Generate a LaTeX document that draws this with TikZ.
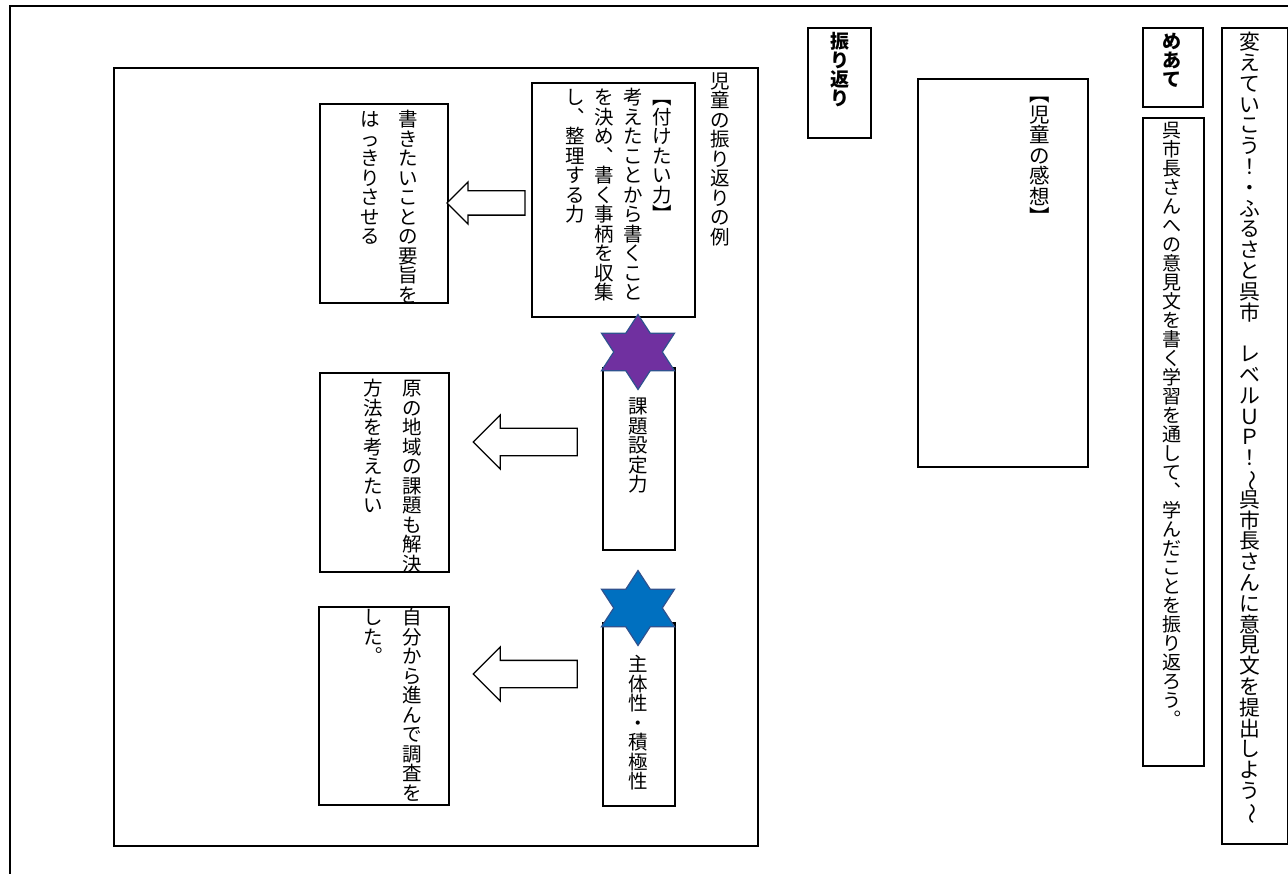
\documentclass[tikz,border=0pt]{standalone}
\usepackage{fontspec}
\setmainfont{Noto Sans CJK JP}
\usetikzlibrary{shapes.arrows}
\definecolor{starpurple}{HTML}{7030A0}
\definecolor{starblue}{HTML}{0070C0}
\definecolor{starline}{HTML}{2F528F}

% one column of vertical (tategaki) text, read top to bottom
\makeatletter
\newcommand\tatecol[1]{\vtop{\baselineskip=1em\lineskip=0pt\lineskiplimit=-100pt
  \@tfor\tate@c:=#1\do{\hbox to 1em{\hss\tate@c\hss}}}}
\makeatother
\newcommand\vwave{\rotatebox[origin=c]{-90}{〜}}

\begin{document}
\begin{tikzpicture}[
  x=1pt, y=-1pt,
  box/.style={draw, line width=1.6pt, anchor=north west, inner sep=0pt},
  vtext/.style={anchor=north east, inner sep=0pt, font=\fontsize{19.5}{19.5}\selectfont},
  vhead/.style={vtext, font=\bfseries\fontsize{19}{19}\selectfont},
  blockarrow/.style={single arrow, draw, line width=1.3pt, fill=white, shape border rotate=180},
  hexstar/.style={draw=starline, line width=1.2pt}
]
\useasboundingbox (0,0) rectangle (1288,874);
\draw[line width=2.2pt] (10,874) -- (10,6) -- (1288,6);

% right hand strips
\node[box, minimum width=66pt, minimum height=816pt] (titlebox) at (1221,27) {};
\node[vtext, font=\fontsize{20.8}{20.8}\selectfont] (title) at (1260,32)
  {\tatecol{変えていこう！・ふるさと呉市　レベルＵＰ！\vwave 呉市長さんに意見文を提出しよう\vwave}};
\node[box, minimum width=60pt, minimum height=79pt] (meatebox) at (1142,27) {};
\node[vhead] (meate) at (1182,33) {\tatecol{めあて}};
\node[box, minimum width=61pt, minimum height=648pt] (goalbox) at (1142,117) {};
\node[vtext, font=\fontsize{19}{19}\selectfont] (goal) at (1182,122)
  {\tatecol{呉市長さんへの意見文を書く学習を通して︑学んだことを振り返ろう︒}};

\node[box, minimum width=63pt, minimum height=110pt] (furibox) at (807,27) {};
\node[vhead] (furi) at (850,32) {\tatecol{振り返り}};
\node[box, minimum width=170pt, minimum height=388pt] (kansoubox) at (917,78) {};
\node[vtext, font=\fontsize{20.5}{20.5}\selectfont] (kansou) at (1050,97) {\tatecol{︻児童の感想︼}};

% example
\node[box, minimum width=644pt, minimum height=778pt] (reibox) at (113,67) {};
\node[vtext] (rei) at (730,72) {\tatecol{児童の振り返りの例}};

\node[box, minimum width=163pt, minimum height=234pt] (chikarabox) at (531,82) {};
\node[vtext] (chikara) at (672,88)
  {\tatecol{し︑整理する力}\kern9.5pt\tatecol{を決め︑書く事柄を収集}\kern9.5pt\tatecol{考えたことから書くこと}\kern9.5pt\tatecol{︻付けたい力︼}};
\node[box, minimum width=128pt, minimum height=199pt] (kakibox) at (319,103) {};
\node[vtext] (kaki) at (418,110)
  {\tatecol{はっきりさせる}\kern18.5pt\tatecol{書きたいことの要旨を}};
\node[blockarrow, inner sep=11.5pt, minimum height=78pt, single arrow head extend=9pt] (arr1) at (492,203) {};

\node[box, minimum width=72pt, minimum height=182pt] (kadaibox) at (602,367) {};
\filldraw[hexstar, fill=starpurple, shift={(638,352)}]
  (0,-37.5) -- (12.2,-18.75) -- (36.5,-18.75) -- (24.3,0) -- (36.5,18.75) -- (12.2,18.75)
  -- (0,37.5) -- (-12.2,18.75) -- (-36.5,18.75) -- (-24.3,0) -- (-36.5,-18.75) -- (-12.2,-18.75) -- cycle;
\node[vtext] (kadai) at (648,398) {\tatecol{課題設定力}};
\node[box, minimum width=129pt, minimum height=199pt] (genbox) at (319,372) {};
\node[vtext] (gen) at (422,379)
  {\tatecol{方法を考えたい}\kern19.5pt\tatecol{原の地域の課題も解決}};
\node[blockarrow, inner sep=13pt, minimum height=104pt, single arrow head extend=13.5pt] (arr2) at (532,442) {};

\node[box, minimum width=72pt, minimum height=183pt] (shutaibox) at (602,622) {};
\filldraw[hexstar, fill=starblue, shift={(638,608)}]
  (0,-37.5) -- (12.2,-18.75) -- (36.5,-18.75) -- (24.3,0) -- (36.5,18.75) -- (12.2,18.75)
  -- (0,37.5) -- (-12.2,18.75) -- (-36.5,18.75) -- (-24.3,0) -- (-36.5,-18.75) -- (-12.2,-18.75) -- cycle;
\node[vtext] (shutai) at (648,655) {\tatecol{主体性・積極性}};
\node[box, minimum width=130pt, minimum height=198pt] (jibunbox) at (318,606) {};
\node[vtext] (jibun) at (422,608)
  {\tatecol{した︒}\kern19.5pt\tatecol{自分から進んで調査を}};
\node[blockarrow, inner sep=13pt, minimum height=104pt, single arrow head extend=13.5pt] (arr3) at (532,674) {};
\end{tikzpicture}
\end{document}
